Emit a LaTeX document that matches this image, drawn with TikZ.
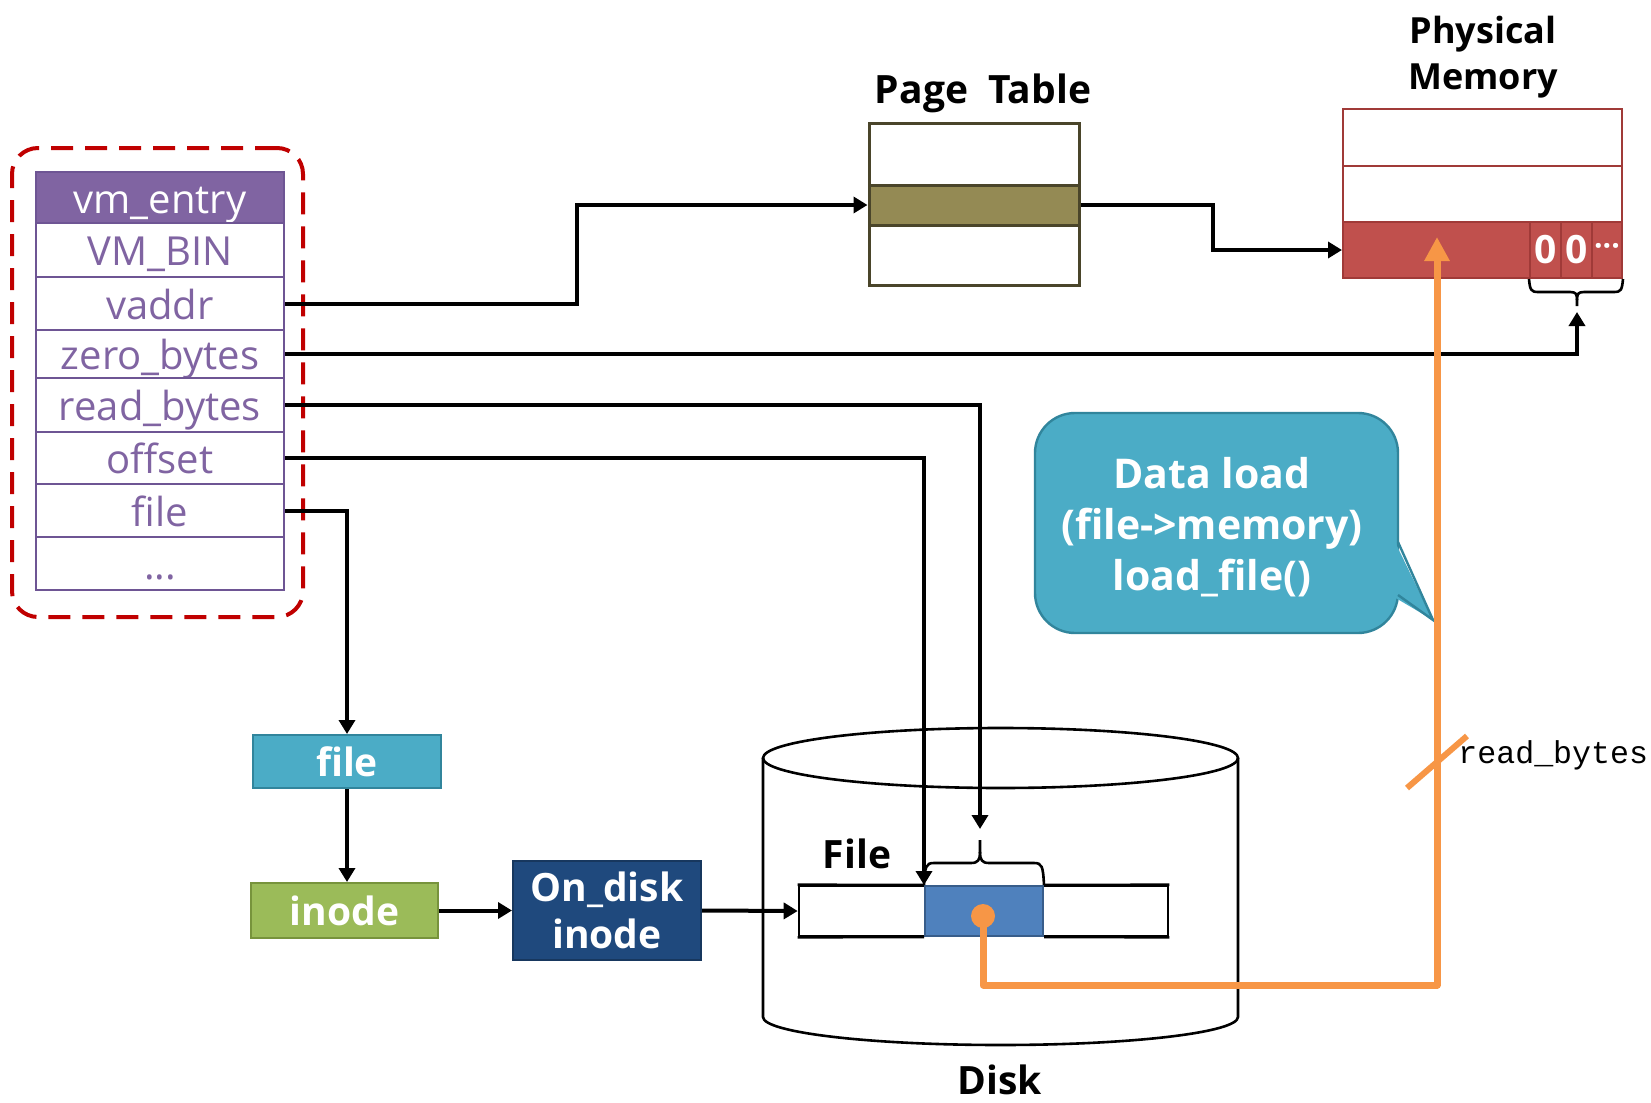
\documentclass[tikz,border=0pt]{standalone}
\usepackage{fontspec}
\setmainfont{Open Sans}
\setmonofont{Liberation Mono}
\usetikzlibrary{arrows.meta}
\definecolor{vmpurple}{HTML}{8064A2}
\definecolor{vmborder}{HTML}{6E5594}
\definecolor{dashred}{HTML}{C00000}
\definecolor{ptborder}{HTML}{4A452A}
\definecolor{ptfill}{HTML}{948A54}
\definecolor{memborder}{HTML}{A03A38}
\definecolor{memfill}{HTML}{C0504D}
\definecolor{aqua}{HTML}{4BACC6}
\definecolor{aquaborder}{HTML}{31859C}
\definecolor{lgreen}{HTML}{9BBB59}
\definecolor{lgreenborder}{HTML}{77933C}
\definecolor{ondiskc}{HTML}{1F497D}
\definecolor{ondiskborder}{HTML}{17375E}
\definecolor{blkc}{HTML}{4F81BD}
\definecolor{blkborder}{HTML}{385D8A}
\definecolor{orng}{HTML}{F79646}
\newcommand{\lowr}[1]{\raisebox{-4pt}{#1}}
\begin{document}
\begin{tikzpicture}[x=0.5pt,y=-0.5pt,
  cell/.style={draw=vmborder, line width=1.2pt, fill=white, text=vmpurple,
    font=\fontsize{20}{24}\selectfont, minimum width=124pt, inner sep=0pt,
    text height=0.8em, text depth=0.05em},
  lbl/.style={font=\bfseries\fontsize{19.5}{23}\selectfont, inner sep=0pt},
  wbox/.style={lbl, text=white, line width=1pt, inner sep=0pt},
  arr/.style={draw, line width=2pt, -{Triangle[length=7pt,width=8pt]}},
  ptcell/.style={draw=ptborder, line width=1.5pt, minimum width=105pt, inner sep=0pt},
  memcell/.style={draw=memborder, line width=1pt, minimum width=139.5pt, inner sep=0pt},
  zcell/.style={draw=memborder, line width=1pt, fill=memfill, minimum height=28pt, inner sep=0pt,
    text=white, font=\bfseries\fontsize{19.5}{23}\selectfont},
  oarr/.style={draw=orng, line width=3.5pt, -{Triangle[length=12pt,width=12pt]}},
]
\useasboundingbox (0,0) rectangle (1651,1103);
\fill[white] (0,0) rectangle (1651,1103);

% ---------- vm_entry group ----------
\node[draw=dashred, line width=2pt, dash pattern=on 11pt off 6pt, rounded corners=13pt,
  minimum width=145.5pt, minimum height=234.5pt, inner sep=0pt] (group) at (157.5,382.5) {};
\node[cell, fill=vmpurple, text=white, minimum height=25.5pt] (head) at (160,197.5) {\lowr{vm\_entry}};
\node[cell, minimum height=27pt] (vmbin) at (160,250) {\lowr{VM\_BIN}};
\node[cell, minimum height=26.5pt] (vaddr) at (160,303.5) {\lowr{vaddr}};
\node[cell, minimum height=24pt] (zero) at (160,354) {\lowr{zero\_bytes}};
\node[cell, minimum height=27pt] (read) at (160,405) {\lowr{read\_bytes}};
\node[cell, minimum height=26pt] (offset) at (160,458) {\lowr{offset}};
\node[cell, minimum height=26.5pt] (file) at (160,510.5) {\lowr{file}};
\node[cell, minimum height=26.5pt] (dots) at (160,563.5) {\lowr{...}};

% ---------- page table ----------
\node[lbl, anchor=base] (ptlabel) at (983,103) {Page\ \ Table};
\node[ptcell, minimum height=31pt] (pt1) at (974,154) {};
\node[ptcell, minimum height=20pt, fill=ptfill] (ptmid) at (974,205) {};
\node[ptcell, minimum height=30pt] (pt3) at (974,255) {};

% ---------- physical memory ----------
\node[lbl, anchor=base, font=\bfseries\fontsize{18}{22}\selectfont] (pmlabel1) at (1483,43) {Physical};
\node[lbl, anchor=base, font=\bfseries\fontsize{18}{22}\selectfont] (pmlabel2) at (1483,90) {Memory};
\node[memcell, minimum height=28.5pt] (mem1) at (1482.5,137.5) {};
\node[memcell, minimum height=28pt] (mem2) at (1482.5,194) {};
\node[memcell, minimum height=28pt, fill=memfill] (memrow) at (1482.5,250) {};
\node[zcell, minimum width=15.5pt] (z1) at (1545.5,250) {0};
\node[zcell, minimum width=15.5pt] (z2) at (1576.5,250) {0};
\node[zcell, minimum width=15pt, font=\bfseries\fontsize{15}{17}\selectfont] (z3) at (1607,250) {\kern-1pt···\kern-1pt};
% brace under zero cells
\draw[line width=1.3pt] (z1.south west) .. controls (1530,290) and (1531,292) .. (1538,292)
  -- (1570,292) .. controls (1576,292) and (1577,294) .. (1577,300) -- (1577,306);
\draw[line width=1.3pt] (z3.south east) .. controls (1622,290) and (1621,292) .. (1614,292)
  -- (1584,292) .. controls (1578,292) and (1577,294) .. (1577,300);
\coordinate (zbtip) at (1577,312);

% ---------- callout ----------
\node[draw=aquaborder, fill=aqua, line width=1.2pt, rounded corners=20pt,
  minimum width=181.5pt, minimum height=110pt, inner sep=0pt] (callout) at (1216.5,523) {};
\fill[aqua] (1394,540) -- (1433,620) -- (1394,597) -- cycle;
\draw[aquaborder, line width=1.2pt] (1398,542) -- (1433,620) -- (1398,595);
\node[lbl, text=white, align=center, font=\bfseries\fontsize{20.5}{25.5}\selectfont] (callouttext) at (1212,527)
  {Data load\\(file-{}>memory)\\load\_file()};

% ---------- disk ----------
\draw[line width=1.3pt] (1000.5,758) ellipse [x radius=237.5, y radius=30];
\draw[line width=1.3pt] (763,758) -- (763,1017) arc[start angle=180, end angle=0, x radius=237.5, y radius=28] -- (1238,758);
\node[lbl, anchor=base] (disklabel) at (1000,1094) {Disk};
\node[lbl, anchor=base] (filelabel) at (857,868) {File};
\node[draw, line width=1.3pt, minimum width=184.5pt, minimum height=25pt, inner sep=0pt] (filebar) at (983.5,911) {};
\node[draw=blkborder, fill=blkc, line width=1pt, minimum width=59pt, minimum height=25pt, inner sep=0pt] (blk) at (984,911) {};
\draw[line width=1.3pt] (filebar.north west) -- (blk.north west) (blk.north east) -- (filebar.north east)
  (filebar.south west) -- (blk.south west) (blk.south east) -- (filebar.south east);
% brace above blk
\draw[line width=1.3pt] (blk.north west) .. controls (925,866) and (926,863) .. (934,863)
  -- (971,863) .. controls (978,863) and (980,860) .. (980,852) -- (980,840);
\draw[line width=1.3pt] (blk.north east) .. controls (1043,866) and (1042,863) .. (1034,863)
  -- (989,863) .. controls (982,863) and (980,860) .. (980,852);
\coordinate (rbtip) at (980,829);
\node[circle, fill=orng, minimum size=12pt, inner sep=0pt] (dot) at (983,916) {};

% ---------- file / inode chain ----------
\node[wbox, draw=aquaborder, fill=aqua, minimum width=94pt, minimum height=26.5pt] (filebox) at (347,761.5) {file};
\node[wbox, draw=lgreenborder, fill=lgreen, minimum width=93.5pt, minimum height=27.5pt] (inode) at (344.5,910.5) {inode};
\node[wbox, draw=ondiskborder, fill=ondiskc, minimum width=94pt, minimum height=49.5pt, align=center,
  font=\bfseries\fontsize{19.5}{23.5}\selectfont] (ondisk) at (607,910.5) {On\_disk\\inode};

% ---------- connectors ----------
\draw[arr] (vaddr.east) -- ++(292,0) |- (ptmid.west);
\draw[arr] (ptmid.east) -- ++(132,0) |- (memrow.west);
\draw[arr] (zero.east) -| (zbtip);
\draw[arr] (read.east) -| (rbtip);
\draw[arr] (offset.east) -| (blk.north west);
\draw[arr] (file.east) -| (filebox.north);
\draw[arr] (filebox.south) -- (filebox.south |- inode.north);
\draw[arr] (inode.east) -- (ondisk.west);
\draw[arr] (ondisk.east) -- (filebar.west);

% ---------- orange data path ----------
\coordinate (orbase) at (1437,985);
\coordinate (ortip) at (1437,237);
\draw[oarr, line join=round] (dot.center) |- (orbase) -- (ortip);
\draw[orng, line width=3pt] (1407,788) -- (1467,736);
\node[anchor=base west, font=\ttfamily\fontsize{15.8}{18}\selectfont, inner sep=0pt] (rblabel) at (1458,763) {read\_bytes};
\end{tikzpicture}
\end{document}
